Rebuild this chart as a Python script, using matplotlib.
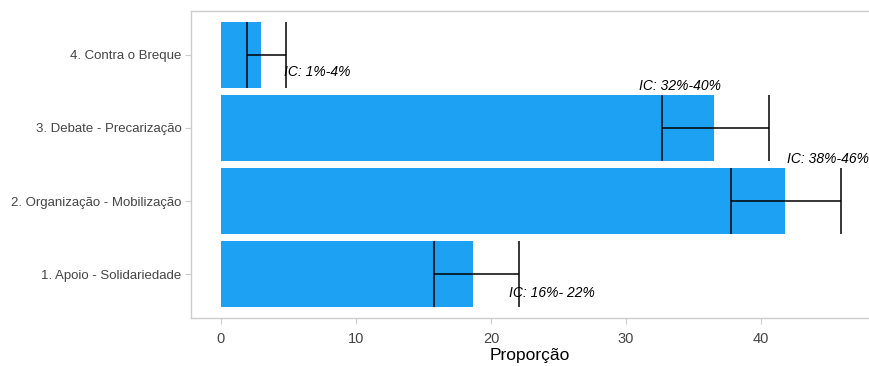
import matplotlib
matplotlib.use("Agg")
import matplotlib.pyplot as plt
import numpy as np

plt.rcParams['font.family'] = ['Liberation Sans', 'DejaVu Sans']

# categories, bottom to top
categorias = ['1. Apoio - Solidariedade', '2. Organização - Mobilização',
              '3. Debate - Precarização', '4. Contra o Breque']
proporcao = [18.7, 41.8, 36.5, 3.0]
ic_inf = [15.8, 37.8, 32.7, 1.9]
ic_sup = [22.1, 45.9, 40.6, 4.8]
ic_texto = ['IC: 16%- 22%', 'IC: 38%-46%', 'IC: 32%-40%', 'IC: 1%-4%']
# label anchor positions (x, y) in data units
ic_x = [24.5, 45.0, 34.0, 7.1]
ic_y = [0.74, 2.58, 3.57, 3.77]

azul = '#1DA1F2'
cinza = '#444444'

fig = plt.figure(figsize=(8.69, 3.66), dpi=100)
ax = fig.add_axes([0.2198, 0.1311, 0.7802, 0.8389])

pos = np.arange(1, len(categorias) + 1)
ax.barh(pos, proporcao, height=0.9, color=azul, zorder=2)

# confidence intervals: horizontal line plus full-height whiskers
ax.hlines(pos, ic_inf, ic_sup, color='black', lw=1.1, zorder=3)
ax.vlines(ic_inf, pos - 0.45, pos + 0.45, color='black', lw=1.1, zorder=3)
ax.vlines(ic_sup, pos - 0.45, pos + 0.45, color='black', lw=1.1, zorder=3)

for x, y, t in zip(ic_x, ic_y, ic_texto):
    ax.text(x, y, t, ha='center', va='center', style='italic',
            fontsize=10, color='black', zorder=4)

ax.set_xlim(-2.22, 48.0)
ax.set_ylim(0.4, 4.6)
ax.set_yticks(pos)
ax.set_yticklabels(categorias)
ax.set_xticks([0, 10, 20, 30, 40])
ax.set_xlabel('Proporção', fontsize=12.5, color='black', labelpad=1.5)

ax.tick_params(axis='both', colors='#CCCCCC', labelcolor=cinza,
               length=4, width=0.8)
ax.tick_params(axis='x', pad=6, labelsize=10.5)
ax.tick_params(axis='y', pad=3, labelsize=9.5)

for side in ['left', 'bottom', 'top']:
    ax.spines[side].set_color('#CCCCCC')
    ax.spines[side].set_linewidth(1.0)
ax.spines['right'].set_visible(False)

fig.savefig('out.png', dpi=100)
